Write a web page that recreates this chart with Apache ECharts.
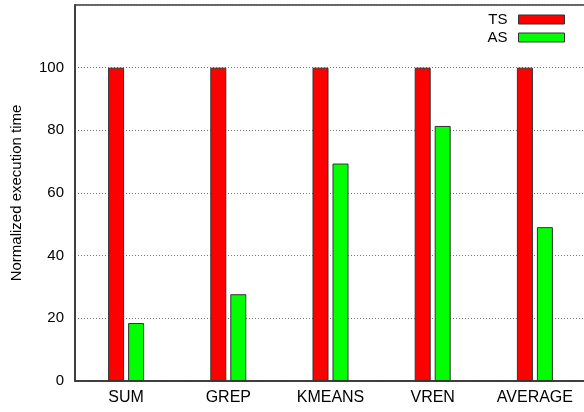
<!DOCTYPE html>
<html>
<head>
    <meta charset="utf-8">
    <title></title>
    <style>
        html, body { margin: 0; padding: 0; background: #fff; }
    </style>
</head>
<body>
    <div id="main" style="width: 584px;height:412px;"></div>
    <script src="https://cdn.jsdelivr.net/npm/echarts@6/dist/echarts.min.js" charset="utf-8"></script>
    <script>
    var categories = ['SUM', 'GREP', 'KMEANS', 'VREN', 'AVERAGE'];
    var tsValues = [100, 100, 100, 100, 100];
    var asValues = [18.5, 27.7, 69.4, 81.4, 49.1];
    var yTicks = [0, 20, 40, 60, 80, 100];

    var font = 'Liberation Sans, Arial, sans-serif';
    var myChart = echarts.init(document.getElementById('main'));
    var option = {
        animation: false,
        textStyle: { fontFamily: font },
        grid: {
            left: 75, top: 5, width: 511, height: 376,
            outerBoundsMode: 'none',
            containLabel: false,
            show: true, borderColor: '#333', borderWidth: 1.5
        },
        legend: {
            orient: 'vertical',
            right: 14, top: 7,
            align: 'right',
            icon: 'rect',
            itemWidth: 46, itemHeight: 9, itemGap: 3,
            textStyle: { fontSize: 15, color: '#000', fontFamily: font, padding: [0, 6, 0, 0] },
            itemStyle: { borderColor: '#333', borderWidth: 1 },
            data: ['TS', 'AS']
        },
        xAxis: {
            type: 'category',
            data: categories,
            axisLine: { lineStyle: { color: '#333', width: 1.5 } },
            axisTick: { show: false },
            axisLabel: { color: '#000', fontSize: 16, margin: 9, fontFamily: font }
        },
        yAxis: {
            type: 'value',
            min: 0, max: 120, interval: 20,
            name: 'Normalized execution time',
            nameLocation: 'middle',
            nameGap: 51,
            nameTextStyle: { color: '#000', fontSize: 15, fontFamily: font },
            axisLine: { show: true, lineStyle: { color: '#333', width: 1.5 } },
            axisTick: { show: false },
            axisLabel: {
                color: '#000', fontSize: 15, margin: 11, fontFamily: font,
                formatter: function (v) { return yTicks.indexOf(v) >= 0 ? String(v) : ''; }
            },
            splitLine: {
                show: true,
                lineStyle: { color: '#777', type: [1, 2], width: 1 }
            }
        },
        series: [{
            name: 'TS',
            type: 'bar',
            data: tsValues,
            barWidth: 16,
            barGap: '25%',
            itemStyle: { color: '#ff0000', borderColor: '#333', borderWidth: 1 }
        }, {
            name: 'AS',
            type: 'bar',
            data: asValues,
            barWidth: 16,
            barGap: '25%',
            itemStyle: { color: '#00ff00', borderColor: '#333', borderWidth: 1 }
        }]
    };
    myChart.setOption(option);
    </script>
</body>
</html>
